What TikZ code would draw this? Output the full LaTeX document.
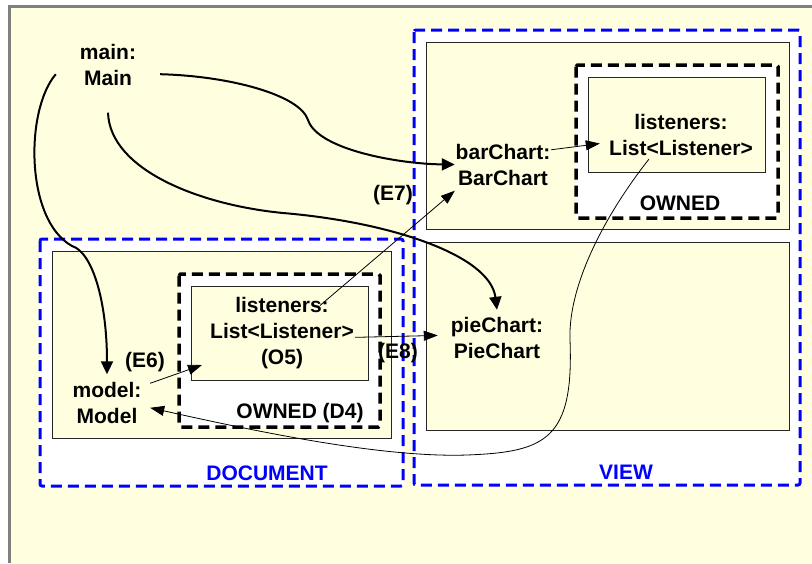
\documentclass[tikz,border=0pt]{standalone}
\usepackage{fontspec}
\setmainfont{Liberation Sans}
\usepackage{xcolor}
\usepackage{tikz}
\usetikzlibrary{arrows.meta,positioning,calc}
\definecolor{noteYellow}{HTML}{FFFFE0}
\definecolor{frameGray}{HTML}{808080}
\definecolor{grpBlue}{HTML}{0000FF}
\newcommand{\objfont}{\fontsize{21}{26}\selectfont\bfseries}

\begin{document}
\begin{tikzpicture}[
  x=1pt, y=-1pt,
  frameline/.style={draw=frameGray, line width=3pt},
  grpbox/.style={draw=grpBlue, fill=white, line width=3pt, dash pattern=on 11pt off 6pt, rounded corners=2pt},
  ownbox/.style={draw=black, fill=white, line width=3.5pt, dash pattern=on 11pt off 6pt, rounded corners=1.5pt},
  objbox/.style={draw=black!85, fill=noteYellow, line width=0.8pt},
  obj/.style={font=\objfont, align=center, inner sep=0pt},
  lab/.style={font=\objfont, inner sep=0pt},
  grplab/.style={font=\objfont, text=grpBlue, inner sep=0pt},
  arr/.style={-{Triangle[length=13pt,width=12pt]}, line width=2pt},
  tarr/.style={-{Triangle[length=14pt,width=10pt]}, line width=0.8pt}
]
\useasboundingbox (0,0) rectangle (812,563);
\fill[white] (0,0) rectangle (812,563);
\fill[noteYellow] (9,6) rectangle (812,563);
\draw[frameline] (9,563) -- (9,6) -- (812,6);

% document side
\draw[grpbox] (40,239) rectangle (403,486);
\draw[objbox] (52,251) rectangle (391,438);
\draw[ownbox] (179,274) rectangle (380,427);
\draw[objbox] (191,286) rectangle (368,380);

% view side
\draw[grpbox] (414,30) rectangle (800,485);
\draw[objbox] (426,42) rectangle (789,229);
\draw[objbox] (426,242) rectangle (789,430);
\draw[ownbox] (576,65) rectangle (778,218);
\draw[objbox] (588,77) rectangle (765,172);

% objects
\node[obj, minimum width=104, minimum height=95] (main) at (108,65) {main:\\Main};
\node[obj, minimum width=86, minimum height=56] (model) at (107,402.5) {model:\\Model};
\node[obj, minimum width=146, minimum height=80] (lstDoc) at (282,333.5) {listeners:\\List<Listener>\\(O5)};
\node[obj, minimum width=96, minimum height=52] (barChart) at (503,164.5) {barChart:\\BarChart};
\node[obj, minimum width=118, minimum height=55] (pieChart) at (497,337.5) {pieChart:\\PieChart};
\node[obj, minimum width=162, minimum height=48] (lstView) at (681,135) {listeners:\\List<Listener>};

% labels
\node[lab] (ownDoc) at (300,413) {OWNED (D4)};
\node[lab] (ownView) at (680,203) {OWNED};
\node[grplab] (docLab) at (267,473) {DOCUMENT};
\node[grplab] (viewLab) at (626,472) {VIEW};
\node[lab] (e6) at (145,362) {(E6)};
\node[lab] (e7) at (393,195) {(E7)};
\node[lab] (e8) at (398,353) {(E8)};

% references
\draw[arr] (main.190) .. controls (25,110) and (25,220) .. (72,246) .. controls (92,252) and (107,300) .. (model.north);
\draw[arr] (main.-10) .. controls (230,76) and (300,95) .. (308,120) .. controls (318,150) and (400,164) .. (barChart.west);
\draw[arr] (main.south) .. controls (110,170) and (200,205) .. (283,213) .. controls (390,222) and (490,255) .. (pieChart.north);
\draw[tarr] (barChart.17) -- (lstView.186);
\draw[tarr] ($(lstDoc.center)+(38,-28)$) -- (barChart.south west);
\draw[tarr] (lstDoc.-3) -- (pieChart.178);
\draw[tarr] (model.24) -- ($(lstDoc.center)+(-80,31.5)$);
\draw[tarr] (lstView.217) .. controls (605,215) and (568,285) .. (570,340) .. controls (574,440) and (545,452) .. (467,455) .. controls (380,458) and (250,430) .. (model.-7);
\end{tikzpicture}
\end{document}
